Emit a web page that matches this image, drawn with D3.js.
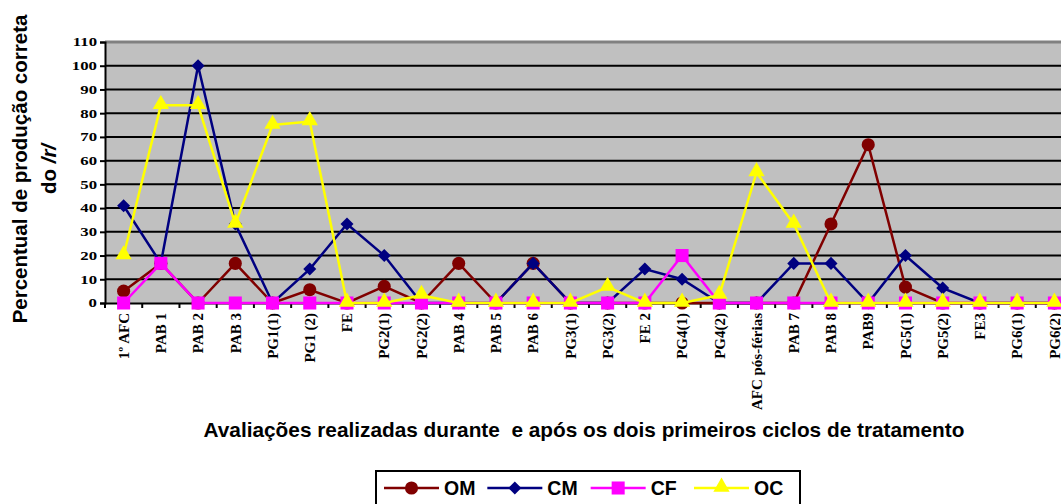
<!DOCTYPE html>
<html>
<head>
<meta charset="utf-8">
<script src="https://cdnjs.cloudflare.com/ajax/libs/d3/7.8.5/d3.min.js"></script>
<style>
  body { margin: 0; background: #fff; }
  svg { display: block; }
</style>
</head>
<body>
<div id="chart"></div>
<script>
// categories (avaliações)
var cats = ["1º AFC", "PAB 1", "PAB 2", "PAB 3", "PG1(1)", "PG1 (2)", "FE", "PG2(1)", "PG2(2)",
  "PAB 4", "PAB 5", "PAB 6", "PG3(1)", "PG3(2)", "FE 2", "PG4(1)", "PG4(2)", "AFC pós-férias",
  "PAB 7", "PAB 8", "PAB9", "PG5(1)", "PG5(2)", "FE3", "PG6(1)", "PG6(2)"];

var om = [5, 16.7, 0, 16.7, 0, 5.6, 0, 7, 0, 16.7, 0, 16.7, 0, 0, 0, 0, 0, 0, 0, 33.3, 66.7, 6.7, 0, 0, 0, 0];
var cm = [41, 16.7, 100, 33.3, 0, 14.3, 33.3, 20, 0, 0, 0, 16.7, 0, 0, 14.3, 10, 0, 0, 16.7, 16.7, 0, 20, 6.3, 0, 0, 0];
var cf = [0, 16.7, 0, 0, 0, 0, 0, 0, 0, 0, 0, 0, 0, 0, 0, 20, 0, 0, 0, 0, 0, 0, 0, 0, 0, 0];
var oc = [20, 83.3, 83.3, 33.3, 75, 76.5, 0, 0, 3.3, 0, 0, 0, 0, 6.7, 0, 0, 3.3, 55, 33.3, 0, 0, 0, 0, 0, 0, 0];

var yTicks = [0, 10, 20, 30, 40, 50, 60, 70, 80, 90, 100, 110];

var series = [
  { name: "OM", values: om, color: "#800000", shape: "circle" },
  { name: "CM", values: cm, color: "#000080", shape: "diamond" },
  { name: "CF", values: cf, color: "#ff00ff", shape: "square" },
  { name: "OC", values: oc, color: "#ffff00", shape: "triangle" }
];

var w = 1061;
var h = 504;
var pLeft = 105, pRight = 1073, pTop = 42, pBottom = 303;

var svg = d3.select("#chart")
  .append("svg")
  .attr("width", w)
  .attr("height", h);

var xScale = d3.scaleBand()
  .domain(cats)
  .range([pLeft, pRight]);

var yScale = d3.scaleLinear()
  .domain([0, 110])
  .range([pBottom, pTop]);

// plot area
svg.append("rect")
  .attr("x", pLeft)
  .attr("y", pTop)
  .attr("width", pRight - pLeft)
  .attr("height", pBottom - pTop)
  .attr("fill", "#c0c0c0");

// gridlines
svg.selectAll("line.grid")
  .data(yTicks.filter(function(d) { return d > 0 && d < 110; }))
  .enter()
  .append("line")
  .attr("class", "grid")
  .attr("x1", pLeft)
  .attr("x2", pRight)
  .attr("y1", function(d) { return yScale(d); })
  .attr("y2", function(d) { return yScale(d); })
  .attr("stroke", "#000")
  .attr("stroke-width", 2);

// top border
svg.append("line")
  .attr("x1", pLeft).attr("x2", pRight)
  .attr("y1", yScale(110)).attr("y2", yScale(110))
  .attr("stroke", "#808080")
  .attr("stroke-width", 3);

// Y axis
var yAxis = d3.axisLeft(yScale)
  .tickValues(yTicks)
  .tickSize(5)
  .tickPadding(4);

var gy = svg.append("g")
  .attr("class", "y axis")
  .attr("transform", "translate(" + pLeft + ",0)")
  .call(yAxis);
gy.select(".domain").attr("stroke", "#000").attr("stroke-width", 2);
gy.selectAll(".tick line").attr("stroke", "#000").attr("stroke-width", 2);
gy.selectAll(".tick text")
  .attr("font-family", "'Liberation Serif', 'Times New Roman', serif")
  .attr("font-weight", "bold")
  .attr("font-size", 12)
  .attr("fill", "#000")
  .attr("x", -8 / 1.4)
  .attr("transform", "scale(1.4,1)");

// X axis
var xAxis = d3.axisBottom(xScale)
  .tickSize(0)
  .tickPadding(0);

var gx = svg.append("g")
  .attr("class", "x axis")
  .attr("transform", "translate(0," + pBottom + ")")
  .call(xAxis);
gx.select(".domain").attr("stroke", "#000").attr("stroke-width", 2);
gx.selectAll(".tick text")
  .attr("font-family", "'Liberation Serif', 'Times New Roman', serif")
  .attr("font-weight", "bold")
  .attr("font-size", 15)
  .attr("fill", "#000")
  .attr("text-anchor", "end")
  .attr("transform", "rotate(-90)")
  .attr("x", -10)
  .attr("y", 0)
  .attr("dy", "0.35em");

// small ticks between categories
svg.selectAll("line.xtick")
  .data(cats)
  .enter()
  .append("line")
  .attr("class", "xtick")
  .attr("x1", function(d) { return xScale(d); })
  .attr("x2", function(d) { return xScale(d); })
  .attr("y1", pBottom)
  .attr("y2", pBottom + 5)
  .attr("stroke", "#000")
  .attr("stroke-width", 2);

// symbols (diamond = square turned 45°)
var symbolTypes = {
  circle: d3.symbolCircle,
  diamond: d3.symbolSquare,
  square: d3.symbolSquare,
  triangle: d3.symbolTriangle
};
var symbolSizes = { circle: 135, diamond: 85, square: 170, triangle: 115 };

function symTransform(s, x, y) {
  if (s.shape == "triangle") return "translate(" + x + "," + (y - 1) + ")";
  if (s.shape == "diamond") return "translate(" + x + "," + y + ") rotate(45)";
  return "translate(" + x + "," + y + ")";
}

var line = d3.line()
  .x(function(d, i) { return xScale(cats[i]) + xScale.bandwidth() / 2; })
  .y(function(d) { return yScale(d); });

series.forEach(function(s) {
  var g = svg.append("g").attr("class", "series");
  g.append("path")
    .datum(s.values)
    .attr("d", line)
    .attr("fill", "none")
    .attr("stroke", s.color)
    .attr("stroke-width", 2.5);

  var sym = d3.symbol().type(symbolTypes[s.shape]).size(symbolSizes[s.shape]);
  g.selectAll("path.mark")
    .data(s.values)
    .enter()
    .append("path")
    .attr("class", "mark")
    .attr("d", sym)
    .attr("transform", function(d, i) {
      return symTransform(s, xScale(cats[i]) + xScale.bandwidth() / 2, yScale(d));
    })
    .attr("fill", s.color);
});

// axis titles
var yt = svg.append("text")
  .attr("transform", "translate(0,169) rotate(-90)")
  .attr("text-anchor", "middle")
  .attr("font-family", "'Liberation Sans', Arial, sans-serif")
  .attr("font-weight", "bold")
  .attr("font-size", 20.5)
  .attr("fill", "#000");
yt.append("tspan").attr("x", 0).attr("y", 27).text("Percentual de produção correta");
var l2 = yt.append("tspan").attr("x", 0).attr("y", 56);
l2.text("do ");
yt.append("tspan").attr("font-style", "italic").text("/r/");

svg.append("text")
  .attr("x", 584)
  .attr("y", 437)
  .attr("text-anchor", "middle")
  .attr("font-family", "'Liberation Sans', Arial, sans-serif")
  .attr("font-weight", "bold")
  .attr("font-size", 20.8)
  .attr("fill", "#000")
  .style("white-space", "pre")
  .text("Avaliações realizadas durante  e após os dois primeiros ciclos de tratamento");

// legend
var legend = svg.append("g").attr("class", "legend");
legend.append("rect")
  .attr("x", 376)
  .attr("y", 471)
  .attr("width", 424)
  .attr("height", 40)
  .attr("fill", "#fff")
  .attr("stroke", "#000")
  .attr("stroke-width", 2);

var legendX = d3.scalePoint()
  .domain(series.map(function(s) { return s.name; }))
  .range([384, 694]);

series.forEach(function(s) {
  var x0 = legendX(s.name);
  var gi = legend.append("g").attr("transform", "translate(" + x0 + ",488)");
  gi.append("line")
    .attr("x1", 0).attr("x2", 55)
    .attr("y1", 0).attr("y2", 0)
    .attr("stroke", s.color)
    .attr("stroke-width", 2.5);
  gi.append("path")
    .attr("d", d3.symbol().type(symbolTypes[s.shape]).size(symbolSizes[s.shape])())
    .attr("transform", symTransform(s, 27.5, 0))
    .attr("fill", s.color);
  gi.append("text")
    .attr("x", 60)
    .attr("y", 7)
    .attr("font-family", "'Liberation Sans', Arial, sans-serif")
    .attr("font-weight", "bold")
    .attr("font-size", 19.5)
    .attr("fill", "#000")
    .text(s.name);
});
</script>
</body>
</html>
